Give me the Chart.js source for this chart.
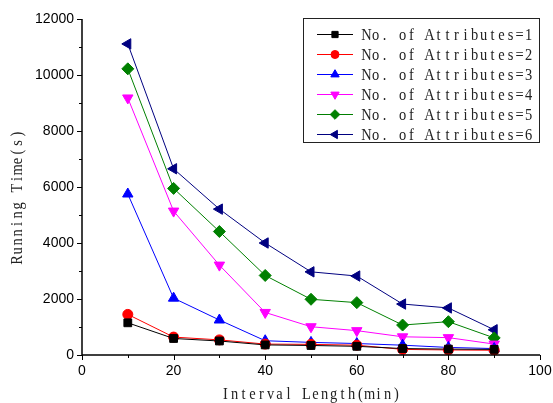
<!DOCTYPE html>
<html><head><meta charset="utf-8">
<script src="https://cdn.jsdelivr.net/npm/chart.js@4"></script>
<style>html,body{margin:0;padding:0;background:#fff}#w{width:553px;height:403px}</style>
</head><body><div id="w"><canvas id="c" width="553" height="403"></canvas></div>
<script>
const intervals = [10, 20, 30, 40, 50, 60, 70, 80, 90];
const attr1 = [1150, 590, 500, 360, 340, 310, 230, 210, 200];
const attr2 = [1450, 640, 540, 390, 380, 350, 200, 180, 170];
const attr3 = [5750, 2030, 1250, 510, 450, 410, 350, 270, 230];
const attr4 = [9180, 5140, 3210, 1520, 1010, 870, 650, 620, 390];
const attr5 = [10220, 5950, 4410, 2840, 1990, 1870, 1070, 1190, 610];
const attr6 = [11110, 6650, 5210, 4000, 2970, 2820, 1820, 1680, 900];
const seriesNames = ['No. of Attributes=1','No. of Attributes=2','No. of Attributes=3','No. of Attributes=4','No. of Attributes=5','No. of Attributes=6'];
const xTicks = [0, 20, 40, 60, 80, 100];
const yTicks = [0, 2000, 4000, 6000, 8000, 10000, 12000];
const xTitle = 'Interval Length(min)';
const yTitle = 'Running Time(s)';

const styles = [
  {c:'#000000', p:'rect', r:5.5, rot:0},
  {c:'#FF0000', p:'circle', r:5, rot:0},
  {c:'#0000FF', p:'triangle', r:6, rot:0},
  {c:'#FF00FF', p:'triangle', r:6, rot:180},
  {c:'#008000', p:'rectRot', r:6, rot:0},
  {c:'#000080', p:'triangle', r:6, rot:-90}
];
const all = [attr1, attr2, attr3, attr4, attr5, attr6];
const datasets = all.map((vals, i) => ({
  label: seriesNames[i],
  data: intervals.map((x, j) => ({x: x, y: vals[j]})),
  borderColor: styles[i].c, backgroundColor: styles[i].c,
  borderWidth: 1, pointStyle: styles[i].p, pointRadius: styles[i].r,
  pointRotation: styles[i].rot, pointBorderWidth: 1, tension: 0
}));

const MONO = '17px "Liberation Serif", "DejaVu Serif", serif';
const SX = 0.85;
function drawMono(ctx, text, x, y, adv) {
  for (let k = 0; k < text.length; k++) {
    const ch = text[k];
    const w = ctx.measureText(ch).width * SX;
    ctx.save();
    ctx.translate(x + k * adv + (adv - w) / 2, y);
    ctx.scale(SX, 1);
    ctx.fillText(ch, 0, 0);
    ctx.restore();
  }
}

const ticksPlugin = {
  id: 'ticksPlugin',
  afterDraw(chart) {
    const ctx = chart.ctx, xs = chart.scales.x, ys = chart.scales.y;
    const ca = chart.chartArea;
    ctx.save();
    ctx.strokeStyle = '#000'; ctx.lineWidth = 1.5;
    ctx.beginPath();
    ctx.moveTo(ca.left, ca.top); ctx.lineTo(ca.left, ca.bottom); ctx.lineTo(ca.right, ca.bottom);
    ctx.stroke();
    ctx.lineWidth = 1;
    ctx.beginPath();
    for (let v = 0; v <= 12000; v += 1000) {
      const py = Math.round(ys.getPixelForValue(v)) + 0.5;
      const len = (v % 2000 === 0) ? 5 : 3;
      ctx.moveTo(ca.left, py); ctx.lineTo(ca.left - len, py);
    }
    for (let v = 0; v <= 100; v += 10) {
      const px = Math.round(xs.getPixelForValue(v)) + 0.5;
      const len = (v % 20 === 0) ? 5 : 3;
      ctx.moveTo(px, ca.bottom); ctx.lineTo(px, ca.bottom + len);
    }
    ctx.stroke();
    // axis titles
    ctx.font = MONO; ctx.fillStyle = '#222'; ctx.textBaseline = 'middle'; ctx.textAlign = 'left';
    const adv = 9;
    const xw = xTitle.length * adv;
    drawMono(ctx, xTitle, (ca.left + ca.right) / 2 - xw / 2, 395, adv);
    ctx.save();
    ctx.translate(18, 197);
    ctx.rotate(-Math.PI / 2);
    const yw = yTitle.length * adv;
    drawMono(ctx, yTitle, -yw / 2, 0, adv);
    ctx.restore();
    // legend
    const bx = 303.5, by = 18.5, bw = 236, bh = 124;
    ctx.fillStyle = '#fff'; ctx.fillRect(bx, by, bw, bh);
    ctx.strokeStyle = '#222'; ctx.lineWidth = 1;
    ctx.strokeRect(bx, by, bw, bh);
    chart.data.datasets.forEach((ds, i) => {
      const cy = 34.5 + i * 20;
      ctx.strokeStyle = ds.borderColor; ctx.lineWidth = 1;
      ctx.beginPath(); ctx.moveTo(317, cy); ctx.lineTo(353, cy); ctx.stroke();
      ctx.fillStyle = ds.backgroundColor;
      Chart.helpers.drawPoint(ctx, {pointStyle: ds.pointStyle, radius: ds.pointRadius * 0.8, rotation: ds.pointRotation, borderWidth: 1}, 335, cy);
      ctx.fillStyle = '#222';
      ctx.font = MONO; ctx.textBaseline = 'middle';
      drawMono(ctx, ds.label, 362, cy + 1, 9);
    });
    ctx.restore();
  }
};

const tickFmt = v => String(v);

new Chart(document.getElementById('c'), {
  type: 'line',
  data: { datasets },
  options: {
    responsive: false, animation: false,
    layout: { padding: { left: 0, right: 13, top: 19, bottom: 0 } },
    plugins: { legend: { display: false }, tooltip: { enabled: false } },
    scales: {
      x: {
        type: 'linear', min: 0, max: 100,
        afterBuildTicks(s) { s.ticks = xTicks.map(v => ({value: v})); },
        afterFit(s) { s.height = 48; s.paddingLeft = 0; s.paddingRight = 0; },
        grid: { display: false, drawTicks: false }, border: { display: false },
        ticks: { color: '#000', font: { family: '"Liberation Sans", Arial', size: 14 }, padding: 8, maxRotation: 0, callback: tickFmt },
        title: { display: false }
      },
      y: {
        type: 'linear', min: 0, max: 12000,
        afterBuildTicks(s) { s.ticks = yTicks.map(v => ({value: v})); },
        afterFit(s) { s.width = 82; s.paddingTop = 0; s.paddingBottom = 0; },
        grid: { display: false, drawTicks: false }, border: { display: false },
        ticks: { color: '#000', font: { family: '"Liberation Sans", Arial', size: 14 }, padding: 8, callback: tickFmt },
        title: { display: false }
      }
    }
  },
  plugins: [ticksPlugin]
});
</script></body></html>
